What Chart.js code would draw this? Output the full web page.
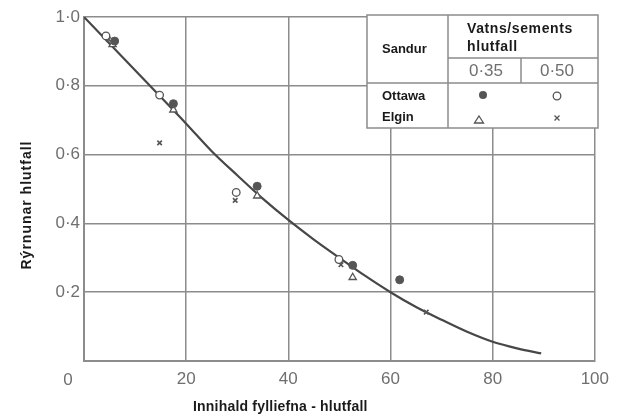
<!DOCTYPE html>
<html>
<head>
<meta charset="utf-8">
<script src="https://cdn.jsdelivr.net/npm/chart.js@4.4.1/dist/chart.umd.min.js"></script>
<style>
html,body{margin:0;padding:0;background:#fff;}
canvas{display:block;}
</style>
</head>
<body>
<canvas id="c" width="617" height="416"></canvas>
<script>
// ---- data ----
const xTicks = [0, 20, 40, 60, 80, 100];
const yTicks = [0, 0.2, 0.4, 0.6, 0.8, 1.0];

const curveX = [0, 10, 20, 25, 30, 35, 40, 45, 50, 55, 60, 65, 70, 75, 80, 85, 89.5];
const curveY = [1.0, 0.845, 0.69, 0.61, 0.54, 0.472, 0.41, 0.353, 0.30, 0.248, 0.20, 0.157, 0.12, 0.085, 0.056, 0.036, 0.022];

const ottawa35X = [6.0, 17.5, 33.9, 52.6, 61.8];
const ottawa35Y = [0.93, 0.748, 0.508, 0.278, 0.236];
const ottawa50X = [4.3, 14.8, 29.8, 49.9];
const ottawa50Y = [0.945, 0.773, 0.49, 0.295];
const elgin35X = [5.6, 17.5, 33.9, 52.6];
const elgin35Y = [0.92, 0.73, 0.48, 0.243];
const elgin50X = [4.8, 14.8, 29.6, 50.3, 67.0];
const elgin50Y = [0.935, 0.634, 0.467, 0.28, 0.142];

const xTitle = 'Innihald fylliefna - hlutfall';
const yTitle = 'Rýrnunar hlutfall';
const legendHead = 'Sandur';
const legendWC = ['Vatns/sements', 'hlutfall'];
const legendRatios = ['0·35', '0·50'];
const legendSands = ['Ottawa', 'Elgin'];

const pts = (xs, ys) => xs.map((x, i) => ({x: x, y: ys[i]}));
const GRID = '#8c8c8c';
const MARK = '#555555';
const TICKC = '#6f6f6f';
const FONT = '"Liberation Sans", Arial, sans-serif';

const overlay = {
  id: 'overlay',
  afterDraw(chart) {
    const ctx = chart.ctx;
    ctx.save();
    // axis titles
    ctx.fillStyle = '#1a1a1a';
    ctx.font = 'bold 14px ' + FONT;
    ctx.textAlign = 'left';
    ctx.textBaseline = 'middle';
    ctx.letterSpacing = '0.2px';
    ctx.fillText(xTitle, 193, 407);
    ctx.save();
    ctx.translate(27, 205);
    ctx.rotate(-Math.PI / 2);
    ctx.textAlign = 'center';
    ctx.letterSpacing = '1px';
    ctx.fillText(yTitle, 0, 0);
    ctx.restore();
    ctx.letterSpacing = '0px';
    // shared origin label
    ctx.fillStyle = TICKC;
    ctx.font = '17px ' + FONT;
    ctx.textAlign = 'center';
    ctx.fillText('0', 68, 380);

    // legend table
    const L = 367, T = 15, R = 598, B = 128, V1 = 448, V2 = 521, H1 = 58, H2 = 83;
    ctx.fillStyle = '#fff';
    ctx.fillRect(L, T, R - L, B - T);
    ctx.strokeStyle = GRID;
    ctx.lineWidth = 1.5;
    ctx.strokeRect(L, T, R - L, B - T);
    ctx.beginPath();
    ctx.moveTo(V1, T); ctx.lineTo(V1, B);
    ctx.moveTo(L, H2); ctx.lineTo(R, H2);
    ctx.moveTo(V1, H1); ctx.lineTo(R, H1);
    ctx.moveTo(V2, H1); ctx.lineTo(V2, H2);
    ctx.stroke();

    ctx.fillStyle = '#1a1a1a';
    ctx.font = 'bold 13px ' + FONT;
    ctx.textAlign = 'left';
    ctx.fillText(legendHead, 382, 49);
    ctx.fillText(legendSands[0], 382, 96);
    ctx.fillText(legendSands[1], 382, 117);
    ctx.font = 'bold 14px ' + FONT;
    ctx.letterSpacing = '0.6px';
    ctx.fillText(legendWC[0], 467, 29);
    ctx.fillText(legendWC[1], 467, 47);
    ctx.letterSpacing = '0px';
    ctx.fillStyle = TICKC;
    ctx.font = '17px ' + FONT;
    ctx.textAlign = 'center';
    ctx.fillText(legendRatios[0], 486, 71);
    ctx.fillText(legendRatios[1], 557, 71);

    // legend symbols
    ctx.strokeStyle = MARK;
    ctx.fillStyle = MARK;
    ctx.lineWidth = 1.3;
    ctx.beginPath(); ctx.arc(483, 95, 4, 0, Math.PI * 2); ctx.fill();
    ctx.beginPath(); ctx.arc(557, 96, 3.8, 0, Math.PI * 2); ctx.stroke();
    ctx.beginPath(); ctx.moveTo(479, 116); ctx.lineTo(483.5, 123); ctx.lineTo(474.5, 123); ctx.closePath(); ctx.stroke();
    ctx.beginPath(); ctx.moveTo(554.5, 115.5); ctx.lineTo(559.5, 120.5); ctx.moveTo(559.5, 115.5); ctx.lineTo(554.5, 120.5); ctx.stroke();
    ctx.restore();
  }
};

new Chart(document.getElementById('c'), {
  type: 'scatter',
  data: {
    datasets: [
      {label: 'curve', type: 'line', data: pts(curveX, curveY), borderColor: '#474747', borderWidth: 2.2,
       pointRadius: 0, fill: false, cubicInterpolationMode: 'monotone', order: 5},
      {label: 'Ottawa 0·35', data: pts(ottawa35X, ottawa35Y), pointStyle: 'circle', pointRadius: 4,
       backgroundColor: MARK, borderColor: MARK, borderWidth: 1},
      {label: 'Ottawa 0·50', data: pts(ottawa50X, ottawa50Y), pointStyle: 'circle', pointRadius: 3.8,
       backgroundColor: '#ffffff', borderColor: MARK, borderWidth: 1.3},
      {label: 'Elgin 0·35', data: pts(elgin35X, elgin35Y), pointStyle: 'triangle', pointRadius: 4.2,
       backgroundColor: '#ffffff', borderColor: MARK, borderWidth: 1.3},
      {label: 'Elgin 0·50', data: pts(elgin50X, elgin50Y), pointStyle: 'crossRot', pointRadius: 3.2,
       backgroundColor: MARK, borderColor: MARK, borderWidth: 1.6}
    ]
  },
  options: {
    responsive: false,
    animation: false,
    layout: {padding: {left: 0, top: 17, right: 20, bottom: 0}},
    plugins: {legend: {display: false}, tooltip: {enabled: false}},
    scales: {
      x: {
        type: 'linear', min: 0, max: 100,
        afterBuildTicks: (s) => { s.ticks = xTicks.map(v => ({value: v})); },
        afterFit: (s) => { s.height = 55; },
        grid: {color: GRID, lineWidth: 1.5, drawTicks: false},
        border: {display: true, color: GRID, width: 2},
        ticks: {color: TICKC, padding: 8, maxRotation: 0,
                font: {family: FONT, size: 17},
                callback: (v) => v === 0 ? '' : String(v)}
      },
      y: {
        type: 'linear', min: 0, max: 1,
        afterBuildTicks: (s) => { s.ticks = yTicks.map(v => ({value: v})); },
        afterFit: (s) => { s.width = 84; },
        grid: {color: GRID, lineWidth: 1.5, drawTicks: false},
        border: {display: true, color: GRID, width: 2},
        ticks: {color: TICKC, padding: 4,
                font: {family: FONT, size: 17},
                callback: (v) => v === 0 ? '' : v.toFixed(1).replace('.', '·')}
      }
    }
  },
  plugins: [overlay]
});
</script>
</body>
</html>
